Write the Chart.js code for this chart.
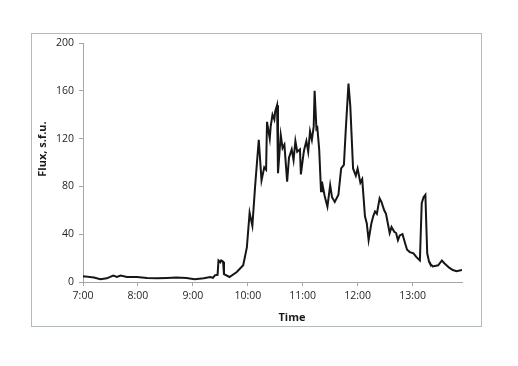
<!DOCTYPE html>
<html>
<head>
<meta charset="utf-8">
<script src="https://cdn.jsdelivr.net/npm/chart.js@4.4.0/dist/chart.umd.min.js"></script>
<style>
  html, body { margin: 0; padding: 0; background: #fff; }
  #wrap { width: 518px; height: 366px; }
</style>
</head>
<body>
<div id="wrap"><canvas id="fluxChart" width="518" height="366"></canvas></div>
<script>
// time in minutes since midnight, flux in s.f.u.
const minutes = [420, 421, 432, 439, 446, 453, 457, 461, 468, 479, 490, 501, 512, 522, 533, 542, 552, 559, 562, 564, 567,
    568, 570, 571, 573, 574, 580, 588, 595, 599, 602, 605, 608, 612, 615, 618, 620, 621, 624, 625, 627, 629, 630, 632,
    633, 636, 638, 640, 643, 645, 648, 650, 652, 654, 657, 658, 661, 662, 664, 666, 668, 670, 672, 673, 675, 676, 678,
    680, 681, 684, 687, 690, 692, 695, 699, 702, 705, 707, 710, 712, 715, 718, 720, 723, 725, 728, 730, 732, 735, 737,
    739, 741, 744, 746, 749, 751, 753, 755, 757, 760, 762, 764, 766, 769, 772, 774, 777, 781, 784, 788, 790, 792, 794,
    796, 798, 799, 802, 808, 812, 815, 820, 824, 828, 834];
const flux = [4.5, 4.8, 3.7, 2.3, 3.1, 5.4, 4.2, 5.4, 4.2, 4.2, 3.4, 3.1, 3.4, 3.7, 3.4, 2.3, 3.1, 4.2, 3.5, 5.6, 6,
    18, 16.5, 18, 17, 6.5, 4.2, 8.4, 14, 29, 58, 47, 80, 119, 85, 96, 94, 134, 120, 130, 140, 136, 143, 148,
    91, 123, 112, 115, 84, 104, 111, 102, 118, 109, 111, 90, 108, 112, 118, 109, 126, 119, 130, 160, 128, 129, 111,
    76, 84, 72, 63, 81, 71, 67, 73, 95, 98, 127, 166, 147, 95, 89, 95, 83, 86, 55, 49, 35, 49, 55,
    59, 57, 70, 67, 60, 57, 49, 41, 46, 42, 41, 35, 39, 40, 32, 27, 25, 24, 21, 18, 66, 71, 73,
    24, 17, 15.5, 13, 14, 18, 15.5, 12, 10, 9, 10];
const yTicks = [0, 40, 80, 120, 160, 200];
const xStart = 420;
const xEnd = 834;

const points = minutes.map((m, i) => ({ x: m, y: flux[i] }));

function formatTime(m) {
    const h = Math.floor(m / 60);
    const mm = m % 60;
    return h + ':' + (mm < 10 ? '0' : '') + mm;
}

// frame + axis titles, drawn like the spreadsheet original
const framePlugin = {
    id: 'frame',
    beforeDraw(chart) {
        const ctx = chart.ctx;
        ctx.save();
        ctx.strokeStyle = '#b4bcbc';
        ctx.lineWidth = 1;
        ctx.strokeRect(31.5, 33.5, 450, 293);
        ctx.restore();
    },
    afterDraw(chart) {
        const ctx = chart.ctx;
        ctx.save();
        ctx.fillStyle = '#1a1a1a';
        ctx.font = 'bold 11px "Open Sans", sans-serif';
        ctx.textAlign = 'center';
        ctx.textBaseline = 'middle';
        ctx.fillText('Time', 292, 318);
        ctx.translate(43, 149);
        ctx.rotate(-Math.PI / 2);
        ctx.fillText('Flux, s.f.u.', 0, 0);
        ctx.restore();
    }
};

const ctx = document.getElementById('fluxChart');
new Chart(ctx, {
    type: 'line',
    data: {
        datasets: [{
            label: 'Flux',
            data: points,
            borderColor: '#161616',
            borderWidth: 2,
            pointRadius: 0,
            tension: 0,
            fill: false
        }]
    },
    options: {
        responsive: false,
        animation: false,
        layout: { padding: { left: 0, right: 56, top: 43, bottom: 0 } },
        plugins: {
            legend: { display: false },
            tooltip: { enabled: false }
        },
        scales: {
            x: {
                type: 'linear',
                min: xStart,
                max: xEnd,
                afterFit: function(scale) { scale.height = 84; },
                ticks: {
                    stepSize: 60,
                    includeBounds: false,
                    maxRotation: 0,
                    padding: 4,
                    color: '#262626',
                    font: { family: '"Open Sans", sans-serif', size: 10.5 },
                    callback: function(value) { return formatTime(value); }
                },
                grid: { display: true, drawOnChartArea: false, drawTicks: true, tickLength: 4, color: '#a6a6a6' },
                border: { display: true, color: '#a6a6a6' }
            },
            y: {
                min: 0,
                max: 200,
                afterFit: function(scale) { scale.width = 83; },
                afterBuildTicks: function(scale) { scale.ticks = yTicks.map(v => ({ value: v })); },
                ticks: {
                    padding: 5,
                    color: '#262626',
                    font: { family: '"Open Sans", sans-serif', size: 10.5 }
                },
                grid: { display: true, drawOnChartArea: false, drawTicks: true, tickLength: 4, color: '#a6a6a6' },
                border: { display: true, color: '#a6a6a6' }
            }
        }
    },
    plugins: [framePlugin]
});
</script>
</body>
</html>
